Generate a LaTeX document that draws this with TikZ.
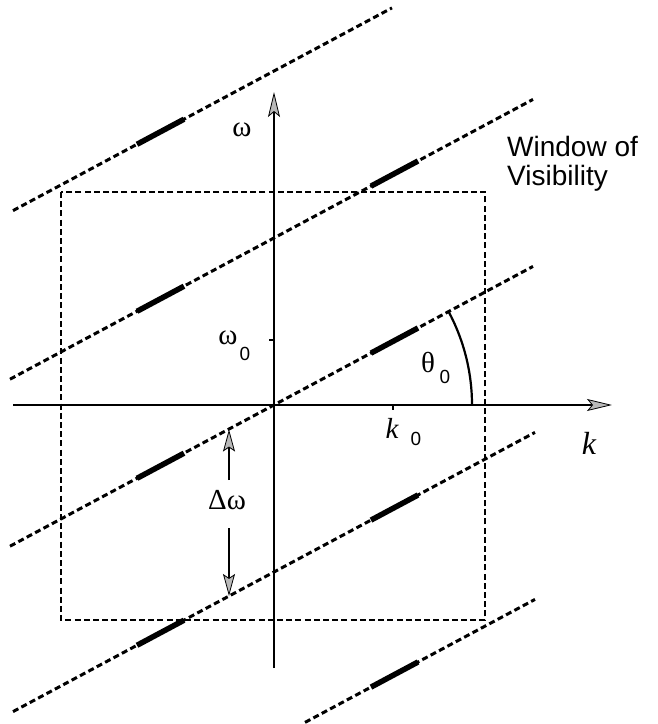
\documentclass[tikz,border=0pt]{standalone}
\usepackage{fontspec}
\setmainfont{Liberation Serif}
\newfontfamily\sansf{Liberation Sans}
\usetikzlibrary{arrows.meta}
\begin{document}
\begin{tikzpicture}[x=1pt,y=-1pt,
  dline/.style={line width=3pt, dash pattern=on 6pt off 3.5pt},
  winbox/.style={line width=2.7pt, dash pattern=on 6pt off 3.2pt},
  seg/.style={line width=5.5pt},
  axisline/.style={line width=2.2pt, -{Stealth[length=25pt,width=12pt,inset=5pt,fill=gray!55,line width=0.8pt]}},
  darrow/.style={line width=1.7pt, -{Stealth[length=22pt,width=12pt,inset=4pt,fill=gray!55,line width=0.8pt]}},
  gr/.style={inner sep=0pt, font=\fontsize{29}{29}\selectfont},
  sub/.style={inner sep=0pt, font=\sansf\fontsize{19}{19}\selectfont},
  ]
\useasboundingbox (0,0) rectangle (658,724);

% window of visibility
\draw[winbox] (61,192) rectangle (485,620);

% dashed lines
\draw[dline] (13,210.6) -- (392,7.9);
\draw[dline] (10,379.2) -- (533,99.4);
\draw[dline] (10,546.2) -- (533,266.4);
\draw[dline] (13,711.6) -- (535,432.4);
\draw[dline] (305,722.4) -- (535,599.4);

% thick segments
\draw[seg] (137,144.3) -- (184,119.2);
\draw[seg] (137,311.3) -- (184,286.2);
\draw[seg] (371,186.1) -- (418,161);
\draw[seg] (137,478.3) -- (184,453.2);
\draw[seg] (371,353.1) -- (418,328);
\draw[seg] (137,645.3) -- (184,620.2);
\draw[seg] (371,520.1) -- (418,495);
\draw[seg] (371,687.1) -- (418,662);

% axes
\coordinate (xl) at (13,405);
\coordinate (xr) at (612,405);
\coordinate (yb) at (274,668);
\coordinate (yt) at (274,92);
\coordinate (o) at (274,405);
\draw[axisline] (xl) -- (xr);
\draw[axisline] (yb) -- (yt);

% ticks
\draw[line width=1.8pt] (269,340) -- (274,340);
\draw[line width=1.8pt] (393,405) -- (393,410);

% angle arc
\draw[line width=2.2pt] (472,405) arc[start angle=0, end angle=-28.15, radius=198];

% delta omega arrows
\coordinate (du1) at (229,480);
\coordinate (du2) at (229,429.5);
\coordinate (dd1) at (229,528);
\coordinate (dd2) at (229,596);
\draw[darrow] (du1) -- (du2);
\draw[darrow] (dd1) -- (dd2);

% labels
\node[gr] (wlab) at (242,130) {ω};
\node[gr] (w0) at (228,338) {ω};
\node[sub] (w0s) at (245,354) {0};
\node[gr] (t0) at (428,362) {θ};
\node[sub] (t0s) at (445,377) {0};
\node[gr, font=\fontsize{29}{29}\selectfont\itshape] (k0) at (392,428) {k};
\node[sub] (k0s) at (416,439) {0};
\node[gr, font=\fontsize{32}{32}\selectfont\itshape] (klab) at (589,443) {k};
\node[gr] (dw) at (227,500) {Δω};
\node[inner sep=0pt, anchor=base west, align=left, font=\sansf\fontsize{28}{29}\selectfont] (win) at (507,185) {Window of\\Visibility};
\end{tikzpicture}
\end{document}
